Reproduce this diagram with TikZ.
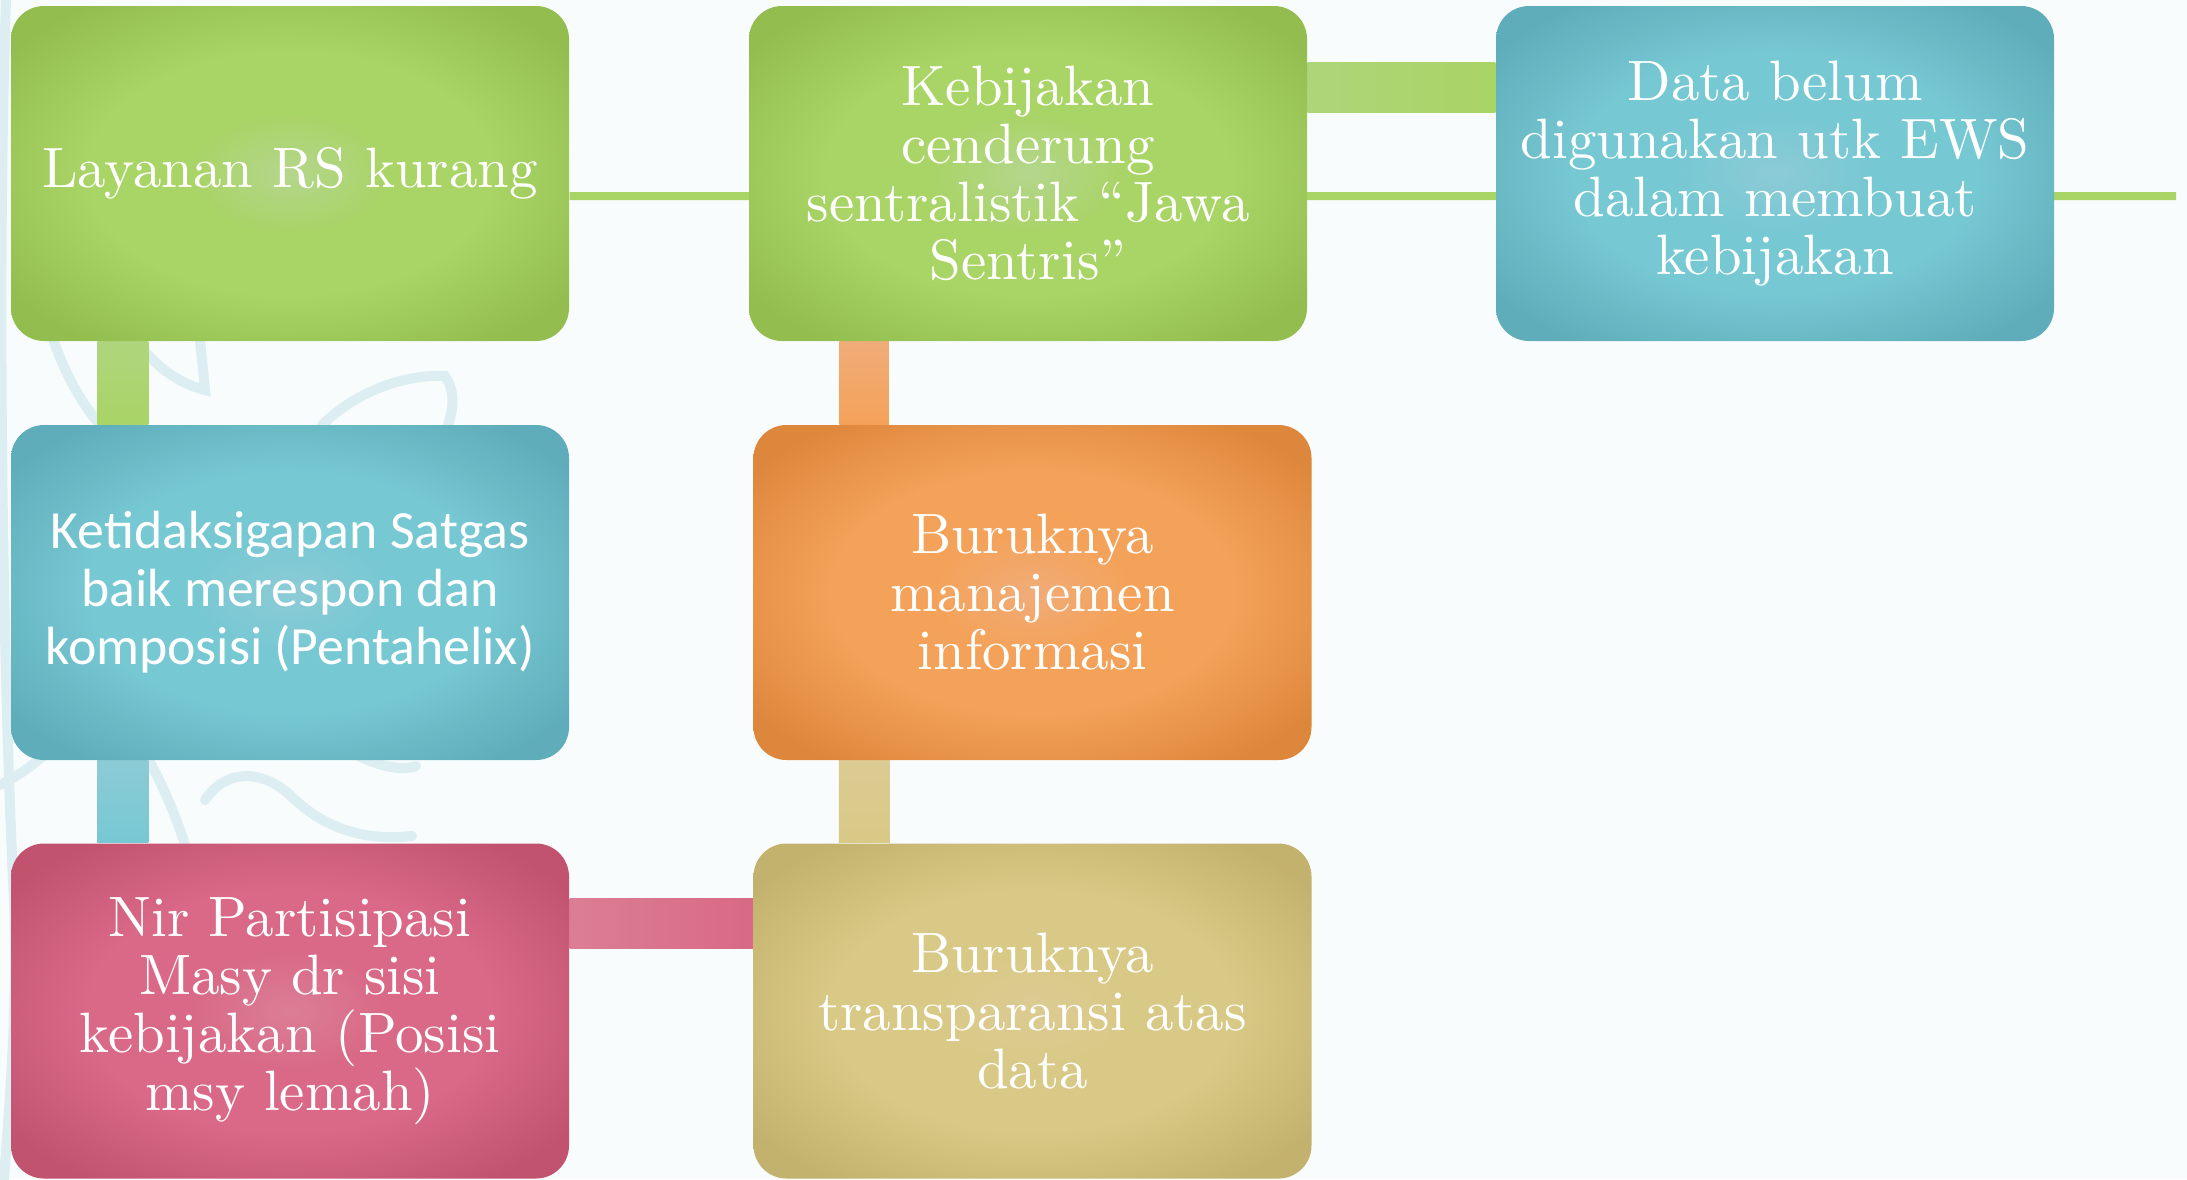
\documentclass[tikz,border=0pt]{standalone}
\usepackage{fontspec}
\newfontfamily\calibrifont{Carlito}
\newfontfamily\romanfont{lmroman10-regular.otf}[Ligatures=TeX]
\usetikzlibrary{positioning}

\definecolor{bgcol}{HTML}{F8FCFD}
\definecolor{leafcol}{HTML}{DCEEF1}
\definecolor{grnin}{HTML}{B4D68C}
\definecolor{grnmid}{HTML}{A9D466}
\definecolor{grnout}{HTML}{93BD4F}
\definecolor{tealin}{HTML}{8CCBD6}
\definecolor{tealmid}{HTML}{76C8D3}
\definecolor{tealout}{HTML}{5FADBA}
\definecolor{orgin}{HTML}{F0AC78}
\definecolor{orgmid}{HTML}{F4A259}
\definecolor{orgout}{HTML}{DD873C}
\definecolor{pinkin}{HTML}{DB7E95}
\definecolor{pinkmid}{HTML}{D96986}
\definecolor{pinkout}{HTML}{C2536F}
\definecolor{tanin}{HTML}{DCCB92}
\definecolor{tanmid}{HTML}{D9C986}
\definecolor{tanout}{HTML}{C2B26D}

\newcommand\glowshading[4]{%
  \pgfdeclareradialshading{#1}{\pgfpoint{0bp}{0bp}}%
    {color(0bp)=(#2); color(9bp)=(#3); color(18bp)=(#3); color(31bp)=(#4); color(50bp)=(#4)}}
\glowshading{greenglow}{grnin}{grnmid}{grnout}
\glowshading{tealglow}{tealin}{tealmid}{tealout}
\glowshading{orangeglow}{orgin}{orgmid}{orgout}
\glowshading{pinkglow}{pinkin}{pinkmid}{pinkout}
\glowshading{tanglow}{tanin}{tanmid}{tanout}

\pgfdeclarelayer{background}
\pgfsetlayers{background,main}

\tikzset{
  cause/.style={shade,rounded corners=3.3mm,minimum width=55.8mm,minimum height=33.5mm,
    inner sep=0pt,align=center,text=white},
  serifbox/.style={cause,font=\romanfont\fontsize{16.2}{16.5}\selectfont},
  sansbox/.style={cause,font=\calibrifont\fontsize{15.3}{16.5}\selectfont},
  rim/.style={draw=grnmid,line width=0.8mm},
  leaf/.style={draw=leafcol,line width=1mm,line cap=round}
}

\begin{document}
\begin{tikzpicture}[x=0.1mm,y=-0.1mm]
\useasboundingbox (0,0) rectangle (2187,1179);
\node[serifbox,shading=greenglow] (layanan) at (290,173.5) {Layanan RS kurang};
\node[serifbox,shading=greenglow] (kebijakan) at (1028,173.5)
  {Kebijakan\\cenderung\\sentralistik ``Jawa\\Sentris''};
\node[serifbox,shading=tealglow] (dataews) at (1775,173.5)
  {Data belum\\digunakan utk EWS\\dalam membuat\\kebijakan};
\node[sansbox,shading=tealglow] (satgas) at (290,592.5)
  {Ketidaksigapan Satgas\\baik merespon dan\\komposisi (Pentahelix)};
\node[serifbox,shading=orangeglow] (manajemen) at (1032.5,592.5)
  {Buruknya\\manajemen\\informasi};
\node[serifbox,shading=pinkglow] (partisipasi) at (290,1011)
  {Nir Partisipasi\\Masy dr sisi\\kebijakan (Posisi\\msy lemah)};
\node[serifbox,shading=tanglow] (transparansi) at (1032.5,1011)
  {Buruknya\\transparansi atas\\data};
\coordinate (rimend) at (2176,196);

\begin{pgfonlayer}{background}
% page and faint ornament
\fill[bgcol] (0,0) rectangle (2187,1179);
\begin{scope}
\clip (0,0) rectangle (2187,1179);
\draw[leaf] (6,0) .. controls (-4,300) and (4,700) .. (14,900) .. controls (18,1020) and (8,1120) .. (4,1179);
\draw[leaf] (35,270) .. controls (50,350) and (75,395) .. (100,425);
\draw[leaf] (140,345) .. controls (160,372) and (185,385) .. (205,390) -- (200,340);
\draw[leaf] (322,425) .. controls (360,388) and (410,374) .. (445,376) .. controls (456,392) and (453,410) .. (448,425);
\draw[leaf] (0,785) .. controls (40,765) and (68,735) .. (82,700);
\draw[leaf] (150,762) .. controls (165,790) and (175,815) .. (185,844);
\draw[leaf] (188,742) .. controls (220,705) and (300,712) .. (340,745) .. controls (370,765) and (400,772) .. (416,766);
\draw[leaf] (205,800) .. controls (225,770) and (260,768) .. (290,795) .. controls (320,825) and (360,842) .. (412,836);
\end{scope}
% connectors
\draw[rim] ([yshift=-2.25mm]layanan.east) -- (rimend);
\shade[top color=grnin!60!grnmid,bottom color=grnmid] ([xshift=8.7mm]layanan.south west) rectangle ([xshift=13.8mm]satgas.north west);
\shade[top color=tealin,bottom color=tealmid] ([xshift=8.7mm]satgas.south west) rectangle ([xshift=13.8mm]partisipasi.north west);
\shade[top color=orgin,bottom color=orgmid] ([xshift=9.1mm]kebijakan.south west) rectangle ([xshift=13.6mm]manajemen.north west);
\shade[top color=tanin,bottom color=tanmid] ([xshift=8.6mm]manajemen.south west) rectangle ([xshift=13.7mm]transparansi.north west);
\shade[left color=pinkin,right color=pinkmid] ([yshift=-5.6mm]partisipasi.north east) rectangle ([yshift=-10.6mm]transparansi.north west);
\shade[left color=grnin!50!grnmid,right color=grnmid] ([yshift=-5.7mm]kebijakan.north east) rectangle ([yshift=-10.7mm]dataews.north west);
\end{pgfonlayer}
\end{tikzpicture}
\end{document}
